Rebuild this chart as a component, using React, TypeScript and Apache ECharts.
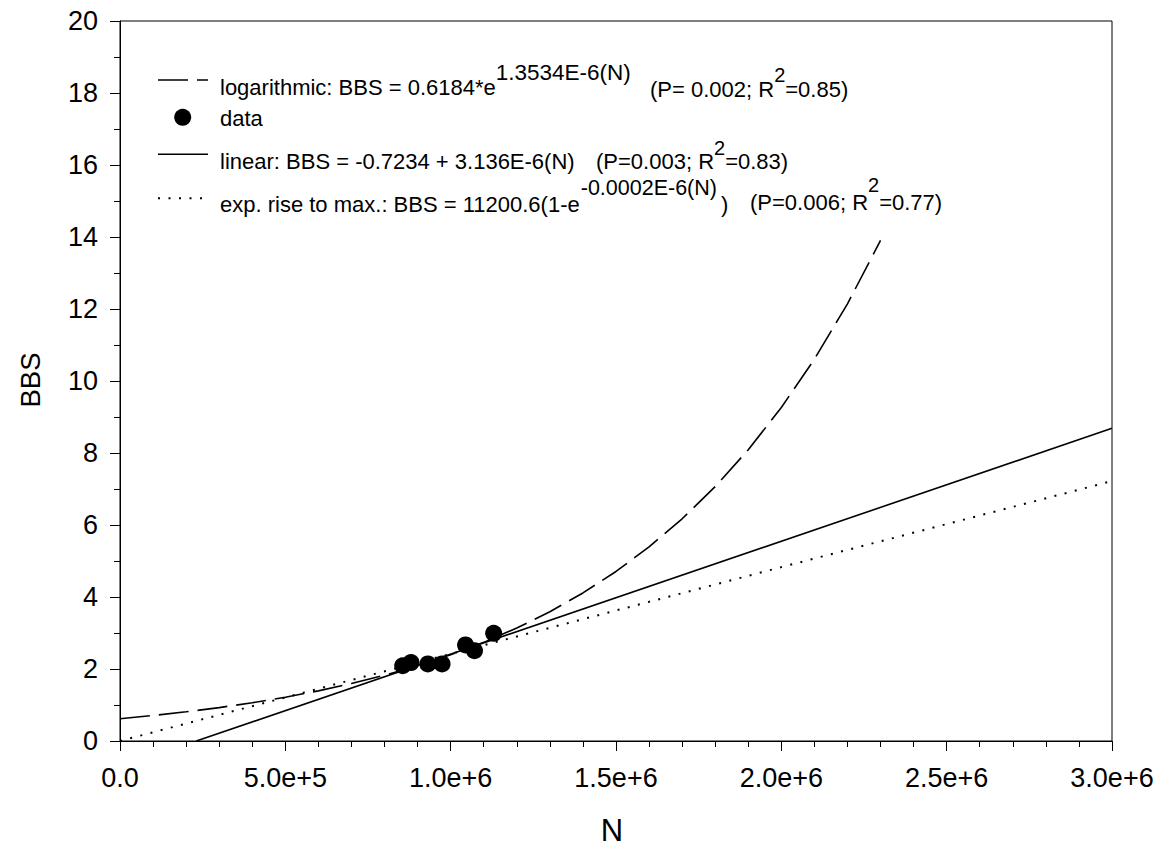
import { useEffect, useRef } from "react";
import * as echarts from "echarts";

const FONT = "'Liberation Sans', Arial, Helvetica, sans-serif";

// observed data points
const dataN = [855000, 880000, 931000, 974000, 1045000, 1072000, 1130000];
const dataBBS = [2.09, 2.18, 2.14, 2.14, 2.67, 2.51, 2.99];

// logarithmic (dashed) curve
const logN = [
  0, 100000, 200000, 300000, 400000, 500000, 600000, 700000, 800000, 900000, 1000000, 1100000,
  1200000, 1300000, 1400000, 1500000, 1600000, 1700000, 1800000, 1900000, 2000000, 2100000,
  2200000, 2300000,
];
const logBBS = [
  0.618, 0.708, 0.811, 0.928, 1.063, 1.217, 1.393, 1.595, 1.826, 2.091, 2.394, 2.74, 3.138, 3.592,
  4.113, 4.709, 5.391, 6.173, 7.067, 8.091, 9.264, 10.606, 12.143, 13.903,
];

// linear (solid) fit
const linN = [230700, 3000000];
const linBBS = [0, 8.685];

// exp. rise to max (dotted)
const expN = [0, 1000000, 2000000, 3000000];
const expBBS = [0, 2.42, 4.83, 7.22];

// axes
const xMin = 0;
const xMax = 3000000;
const xStep = 500000;
const yMin = 0;
const yMax = 20;
const yStep = 2;

type Piece = { t: string; sup?: boolean; x?: number; gap?: number; y?: number; size?: number };

const legendRows: { y: number; supY: number; pieces: Piece[] }[] = [
  {
    y: 87,
    supY: 72,
    pieces: [
      { t: "logarithmic: BBS = 0.6184*e", x: 220 },
      { t: "1.3534E-6(N)", sup: true, size: 22.5 },
      { t: "(P= 0.002; R", x: 650, y: 89 },
      { t: "2", sup: true, y: 75 },
      { t: "=0.85)", y: 89 },
    ],
  },
  {
    y: 118,
    supY: 118,
    pieces: [{ t: "data", x: 220 }],
  },
  {
    y: 161,
    supY: 148,
    pieces: [
      { t: "linear: BBS = -0.7234 + 3.136E-6(N)", x: 220 },
      { t: "(P=0.003; R", x: 596 },
      { t: "2", sup: true },
      { t: "=0.83)" },
    ],
  },
  {
    y: 204.5,
    supY: 187.5,
    pieces: [
      { t: "exp. rise to max.: BBS = 11200.6(1-e", x: 220 },
      { t: "-0.0002E-6(N)", sup: true, size: 21.5, gap: 1 },
      { t: ")", gap: 4 },
      { t: "(P=0.006; R", x: 750, y: 202 },
      { t: "2", sup: true, y: 185 },
      { t: "=0.77)", y: 202 },
    ],
  },
];

const MAIN_SIZE = 22;
const SUP_SIZE = 20;

function measure(text: string, size: number): number {
  const c = document.createElement("canvas");
  const ctx = c.getContext("2d");
  if (!ctx) return text.length * size * 0.55;
  ctx.font = `${size}px 'Liberation Sans', Arial, sans-serif`;
  return ctx.measureText(text).width;
}

function buildLegendTexts() {
  const els: any[] = [];
  legendRows.forEach((row) => {
    let cx = 0;
    row.pieces.forEach((p) => {
      const size = p.size !== undefined ? p.size : p.sup ? SUP_SIZE : MAIN_SIZE;
      const x = p.x !== undefined ? p.x : cx + (p.gap || 0);
      const y = p.y !== undefined ? p.y : p.sup ? row.supY : row.y;
      els.push({
        type: "text",
        x,
        y,
        z: 100,
        style: {
          text: p.t,
          fill: "#000",
          fontSize: size,
          fontFamily: FONT,
          align: "left",
          verticalAlign: "middle",
        },
      });
      cx = x + measure(p.t, size);
    });
  });
  return els;
}

export default function App() {
  const ref = useRef<HTMLDivElement>(null);

  useEffect(() => {
    if (!ref.current) return;
    const chart = echarts.init(ref.current, undefined, { renderer: "svg" });

    const legendGraphics: any[] = [
      {
        type: "line",
        z: 100,
        shape: { x1: 158, y1: 80, x2: 208, y2: 80 },
        style: { stroke: "#000", lineWidth: 1.5, lineDash: [30, 9] },
      },
      {
        type: "circle",
        z: 100,
        shape: { cx: 182.7, cy: 117.3, r: 8.5 },
        style: { fill: "#000" },
      },
      {
        type: "line",
        z: 100,
        shape: { x1: 158, y1: 154.3, x2: 208, y2: 154.3 },
        style: { stroke: "#000", lineWidth: 1.5 },
      },
      {
        type: "line",
        z: 100,
        shape: { x1: 158, y1: 198.3, x2: 202, y2: 198.3 },
        style: { stroke: "#000", lineWidth: 2, lineDash: [2, 8.5] },
      },
      {
        type: "text",
        x: 30,
        y: 380,
        rotation: Math.PI / 2,
        style: {
          text: "BBS",
          fill: "#000",
          fontSize: 27.5,
          fontFamily: FONT,
          align: "center",
          verticalAlign: "middle",
        },
      },
      {
        type: "text",
        x: 612,
        y: 830,
        style: {
          text: "N",
          fill: "#000",
          fontSize: 31,
          fontFamily: FONT,
          align: "center",
          verticalAlign: "middle",
        },
      },
      ...buildLegendTexts(),
    ];

    chart.setOption({
      animation: false,
      backgroundColor: "#fff",
      grid: {
        left: 120,
        right: 52,
        top: 21,
        bottom: 116,
        show: true,
        borderColor: "#000",
        borderWidth: 1,
        backgroundColor: "transparent",
      },
      xAxis: {
        type: "value",
        min: xMin,
        max: xMax,
        interval: xStep,
        axisLine: { show: true, onZero: false, lineStyle: { color: "#000", width: 1 } },
        axisTick: { show: true, inside: false, length: 10, lineStyle: { color: "#000" } },
        minorTick: { show: true, splitNumber: 5, length: 6, lineStyle: { color: "#000" } },
        splitLine: { show: false },
        axisLabel: {
          color: "#000",
          fontSize: 27,
          fontFamily: FONT,
          margin: 23,
          formatter: (v: number) => (v === 0 ? "0.0" : v.toExponential(1)),
        },
      },
      yAxis: {
        type: "value",
        min: yMin,
        max: yMax,
        interval: yStep,
        axisLine: { show: true, onZero: false, lineStyle: { color: "#000", width: 1 } },
        axisTick: { show: true, inside: false, length: 10, lineStyle: { color: "#000" } },
        minorTick: { show: true, splitNumber: 2, length: 6, lineStyle: { color: "#000" } },
        splitLine: { show: false },
        axisLabel: {
          color: "#000",
          fontSize: 27,
          fontFamily: FONT,
          margin: 22,
        },
      },
      graphic: legendGraphics,
      series: [
        {
          type: "line",
          data: logN.map((n, i) => [n, logBBS[i]]),
          showSymbol: false,
          symbol: "none",
          lineStyle: { color: "#000", width: 1.6, type: [30, 9] },
          z: 3,
        },
        {
          type: "line",
          data: linN.map((n, i) => [n, linBBS[i]]),
          showSymbol: false,
          symbol: "none",
          lineStyle: { color: "#000", width: 1.6, type: "solid" },
          z: 3,
        },
        {
          type: "line",
          data: expN.map((n, i) => [n, expBBS[i]]),
          showSymbol: false,
          symbol: "none",
          lineStyle: { color: "#000", width: 2, type: [2, 8.5] },
          z: 3,
        },
        {
          type: "scatter",
          data: dataN.map((n, i) => [n, dataBBS[i]]),
          symbol: "circle",
          symbolSize: 17,
          itemStyle: { color: "#000", opacity: 1 },
          z: 5,
        },
      ],
    });

    return () => {
      chart.dispose();
    };
  }, []);

  return (
    <div
      ref={ref}
      style={{ position: "absolute", left: 0, top: 0, width: 1164, height: 857, background: "#fff" }}
    />
  );
}
